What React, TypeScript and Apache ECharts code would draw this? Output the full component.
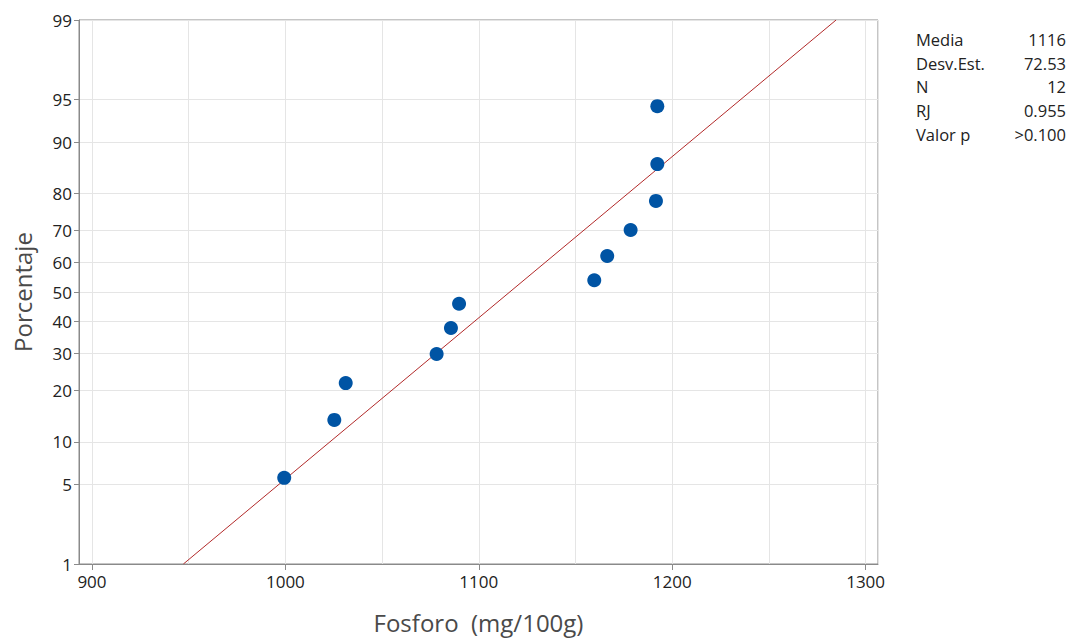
import React, { useEffect, useRef } from "react";
import * as echarts from "echarts";

// Observed values (mg/100g), sorted
const xValues = [999.4, 1025.3, 1031.2, 1078.2, 1085.6, 1089.8, 1159.7, 1166.4, 1178.5, 1191.6, 1192.3, 1192.3];
// Plotted cumulative percentages
const percents = [5.6, 13.7, 21.8, 29.8, 37.9, 46.0, 54.0, 62.1, 70.2, 78.2, 86.3, 94.4];
// Probability-axis tick labels (%)
const yTicks = [1, 5, 10, 20, 30, 40, 50, 60, 70, 80, 90, 95, 99];
const xTicks = [900, 1000, 1100, 1200, 1300];
// Fit parameters / stats
const mean = 1116;
const stdDev = 72.53;
const statLabels = ["Media", "Desv.Est.", "N", "RJ", "Valor p"];
const statValues = ["1116", "72.53", "12", "0.955", ">0.100"];

// inverse standard normal CDF (Acklam) – used for the probability axis transform
function invNorm(p: number): number {
  const a = [-3.969683028665376e1, 2.209460984245205e2, -2.759285104469687e2, 1.38357751867269e2, -3.066479806614716e1, 2.506628277459239];
  const b = [-5.447609879822406e1, 1.615858368580409e2, -1.556989798598866e2, 6.680131188771972e1, -1.328068155288572e1];
  const c = [-7.784894002430293e-3, -3.223964580411365e-1, -2.400758277161838, -2.549732539343734, 4.374664141464968, 2.938163982698783];
  const d = [7.784695709041462e-3, 3.224671290700398e-1, 2.445134137142996, 3.754408661907416];
  const plow = 0.02425;
  if (p < plow) {
    const q = Math.sqrt(-2 * Math.log(p));
    return (((((c[0] * q + c[1]) * q + c[2]) * q + c[3]) * q + c[4]) * q + c[5]) / ((((d[0] * q + d[1]) * q + d[2]) * q + d[3]) * q + 1);
  }
  if (p <= 1 - plow) {
    const q = p - 0.5;
    const r = q * q;
    return ((((((a[0] * r + a[1]) * r + a[2]) * r + a[3]) * r + a[4]) * r + a[5]) * q) / (((((b[0] * r + b[1]) * r + b[2]) * r + b[3]) * r + b[4]) * r + 1);
  }
  const q = Math.sqrt(-2 * Math.log(1 - p));
  return -(((((c[0] * q + c[1]) * q + c[2]) * q + c[3]) * q + c[4]) * q + c[5]) / ((((d[0] * q + d[1]) * q + d[2]) * q + d[3]) * q + 1);
}

const FONT = "'Open Sans', 'Noto Sans', sans-serif";

export default function App() {
  const ref = useRef<HTMLDivElement>(null);
  useEffect(() => {
    if (!ref.current) return;
    const chart = echarts.init(ref.current, null, { renderer: "svg" });
    const zTicks = yTicks.map((p) => invNorm(p / 100));
    const zMin = zTicks[0];
    const zMax = zTicks[zTicks.length - 1];
    const xMin = 893.3;
    const xMax = 1306.4;
    const labelFor = (v: number) => {
      let best = 0;
      for (let i = 0; i < zTicks.length; i++) if (Math.abs(zTicks[i] - v) < Math.abs(zTicks[best] - v)) best = i;
      return String(yTicks[best]);
    };
    const points = xValues.map((x, i) => [x, invNorm(percents[i] / 100)]);
    const fitLine = [
      [mean + stdDev * zMin, zMin],
      [mean + stdDev * zMax, zMax],
    ];
    const statsGraphics: any[] = [];
    statLabels.forEach((s, i) => {
      statsGraphics.push({
        type: "text",
        left: 916,
        top: 31 + i * 23.7,
        style: { text: s, fill: "#222", font: `16.5px ${FONT}` },
      });
      statsGraphics.push({
        type: "text",
        right: 2,
        top: 31 + i * 23.7,
        style: { text: statValues[i], fill: "#222", font: `16.5px ${FONT}`, textAlign: "right" },
      });
    });
    chart.setOption({
      animation: false,
      backgroundColor: "#ffffff",
      grid: {
        left: 79,
        top: 20,
        right: 190,
        bottom: 72,
        show: true,
        borderColor: "#8a8a8a",
        borderWidth: 1,
        backgroundColor: "transparent",
      },
      xAxis: [
        {
          type: "value",
          min: xMin,
          max: xMax,
          name: "Fosforo  (mg/100g)",
          nameLocation: "middle",
          nameGap: 46,
          nameTextStyle: { fontFamily: FONT, fontSize: 24, color: "#4a4a4a" },
          axisLine: { show: true, onZero: false, lineStyle: { color: "#8a8a8a", width: 1 } },
          axisTick: { show: true, length: 6, customValues: xTicks, lineStyle: { color: "#8a8a8a" } },
          axisLabel: { customValues: xTicks, formatter: (v: number) => String(Math.round(v)), fontFamily: FONT, fontSize: 17, color: "#222", margin: 9 },
          splitLine: { show: false },
        },
        {
          type: "value",
          min: xMin,
          max: xMax,
          splitNumber: 8,
          position: "bottom",
          axisLine: { show: false, onZero: false },
          axisTick: { show: false },
          axisLabel: { show: false },
          splitLine: { show: true, lineStyle: { color: "#e5e5e5", width: 1 } },
        },
      ],
      yAxis: {
        type: "value",
        min: zMin,
        max: zMax,
        name: "Porcentaje",
        nameLocation: "middle",
        nameGap: 45,
        nameTextStyle: { fontFamily: FONT, fontSize: 24, color: "#4a4a4a" },
        axisLine: { show: true, onZero: false, lineStyle: { color: "#8a8a8a", width: 1 } },
        axisTick: { show: true, length: 5, customValues: zTicks, lineStyle: { color: "#8a8a8a" } },
        axisLabel: { customValues: zTicks, formatter: (v: number) => labelFor(v), fontFamily: FONT, fontSize: 17, color: "#222", margin: 7 },
        splitLine: { show: true, lineStyle: { color: "#e5e5e5", width: 1 } },
      },
      graphic: statsGraphics,
      series: [
        {
          type: "line",
          data: fitLine,
          symbol: "none",
          lineStyle: { color: "#b22a2a", width: 1 },
          silent: true,
          z: 2,
        },
        {
          type: "scatter",
          data: points,
          symbol: "circle",
          symbolSize: 14,
          itemStyle: { color: "#0054a4", opacity: 1 },
          z: 3,
        },
      ],
    });
    return () => chart.dispose();
  }, []);
  return <div ref={ref} style={{ position: "fixed", left: 0, top: 0, width: 1068, height: 639 }} />;
}
